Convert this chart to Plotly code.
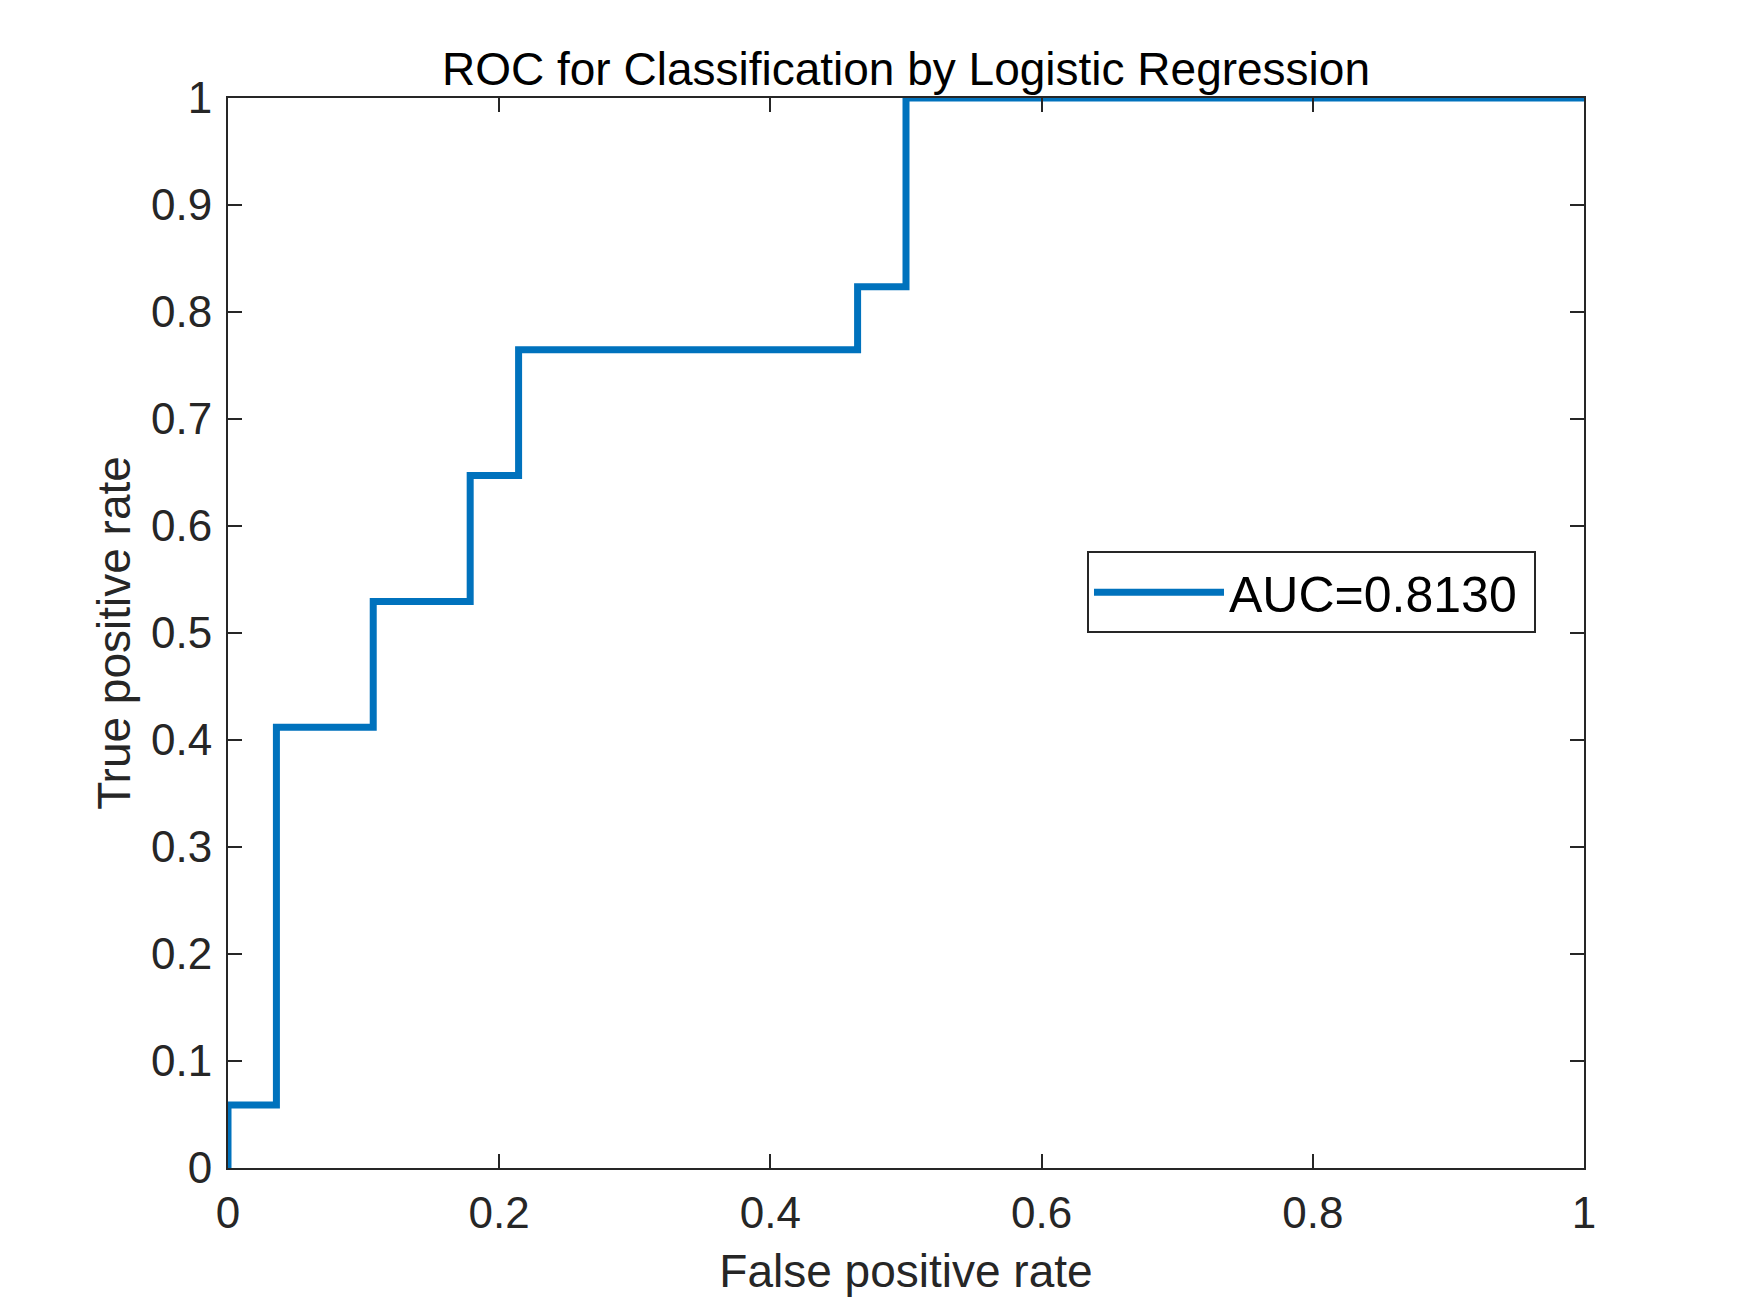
import plotly.graph_objects as go

# ROC curve vertices (False positive rate, True positive rate)
fpr = [0.0, 0.0, 0.0357, 0.0357, 0.1071, 0.1071, 0.1786, 0.1786, 0.2143, 0.2143,
       0.4643, 0.4643, 0.5, 0.5, 1.0]
tpr = [0.0, 0.0588, 0.0588, 0.4118, 0.4118, 0.5294, 0.5294, 0.6471, 0.6471, 0.7647,
       0.7647, 0.8235, 0.8235, 1.0, 1.0]
series_name = "AUC=0.8130"

x_ticks = [0, 0.2, 0.4, 0.6, 0.8, 1]
x_ticklabels = ["0", "0.2", "0.4", "0.6", "0.8", "1"]
y_ticks = [0, 0.1, 0.2, 0.3, 0.4, 0.5, 0.6, 0.7, 0.8, 0.9, 1]
y_ticklabels = ["0", "0.1", "0.2", "0.3", "0.4", "0.5", "0.6", "0.7", "0.8", "0.9", "1"]

FONT = "Liberation Sans, Arial, Helvetica, sans-serif"
AX = "#262626"

fig = go.Figure()
fig.add_trace(go.Scatter(
    x=fpr, y=tpr, mode="lines", name=series_name,
    line=dict(color="#0072BD", width=7),
    cliponaxis=False,
))

axis_common = dict(
    showgrid=False, zeroline=False, showline=True, linecolor=AX, linewidth=2,
    mirror="ticks", ticks="inside", ticklen=14, tickwidth=2, tickcolor=AX,
    tickfont=dict(family=FONT, size=44, color=AX),
    range=[0, 1], fixedrange=True,
)

fig.update_layout(
    width=1750, height=1313,
    paper_bgcolor="white", plot_bgcolor="white",
    margin=dict(l=220, r=174, t=90, b=153),
    title=dict(text="ROC for Classification by Logistic Regression",
               font=dict(family=FONT, size=46, color="black"),
               x=(220 + 1576) / 2 / 1750, xanchor="center",
               y=1 - 61 / 1313, yanchor="middle"),
    xaxis=dict(**axis_common, tickvals=x_ticks, ticktext=x_ticklabels,
               ticklabelstandoff=5,
               title=dict(text="False positive rate", standoff=19,
                          font=dict(family=FONT, size=46, color=AX))),
    yaxis=dict(**axis_common, tickvals=y_ticks, ticktext=y_ticklabels,
               ticklabelstandoff=5,
               title=dict(text="True positive rate", standoff=6,
                          font=dict(family=FONT, size=46, color=AX))),
    showlegend=True,
    legend=dict(x=0.9646, xanchor="right", y=0.538, yanchor="middle",
                orientation="h", entrywidth=300, entrywidthmode="pixels",
                bgcolor="white", bordercolor=AX, borderwidth=2,
                font=dict(family=FONT, size=50, color="black"),
                itemwidth=130),
)

fig.write_html("out.html")
